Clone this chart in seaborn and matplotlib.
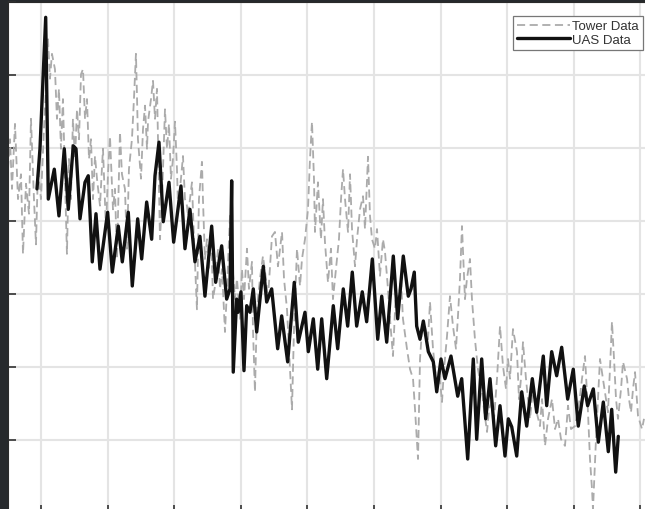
import numpy as np
import pandas as pd
import matplotlib
matplotlib.use("Agg")
import matplotlib.pyplot as plt
import seaborn as sns

# UAS data (black solid)
uas_x = [9.4, 9.85, 10.71, 11.10, 12.0, 12.70, 13.50, 14.10, 14.85, 15.26, 15.86, 16.61,
         17.10, 17.70, 18.26, 18.86, 20.01, 20.71, 21.61, 22.21, 23.11, 23.71, 24.52, 25.12,
         25.87, 26.62, 27.12, 27.72, 28.36, 29.22, 29.92, 31.02, 31.62, 32.37, 33.12, 33.87,
         34.62, 35.63, 36.23, 37.13, 37.88, 38.38, 38.63, 38.87, 39.38, 39.62, 40.03, 40.48,
         40.89, 41.38, 41.88, 42.39, 43.38, 43.89, 44.64, 45.54, 46.14, 47.04, 48.03, 48.63,
         49.64, 50.14, 50.89, 51.55, 52.15, 52.90, 53.89, 54.55, 55.39, 56.05, 56.74, 57.40,
         58.24, 58.90, 59.75, 60.56, 61.16, 61.91, 62.90, 63.56, 64.40, 65.15, 65.56, 66.05,
         66.41, 66.91, 67.41, 68.16, 68.91, 69.42, 70.06, 70.66, 71.56, 72.57, 73.17, 74.07,
         74.91, 75.42, 76.17, 76.77, 77.42, 78.27, 78.92, 79.67, 80.17, 80.68, 81.43, 82.18,
         82.93, 83.77, 84.43, 85.42, 85.93, 86.68, 87.43, 88.18, 89.08, 89.92, 90.67, 91.57,
         92.08, 92.93, 93.68, 94.43, 95.18, 95.69, 96.29, 96.68]
uas_y = [4.44, 4.99, 6.79, 4.30, 4.71, 4.07, 4.99, 4.16, 5.03, 4.99, 4.03, 4.53,
         4.62, 3.44, 4.10, 3.34, 4.12, 3.30, 3.93, 3.44, 4.12, 3.11, 4.03, 3.48,
         4.26, 3.75, 4.62, 5.08, 3.99, 4.53, 3.71, 4.48, 3.62, 4.16, 3.44, 3.79,
         2.97, 3.93, 3.16, 3.66, 2.93, 3.07, 4.55, 1.93, 2.93, 2.75, 3.03, 1.95,
         2.84, 2.75, 3.07, 2.48, 3.38, 2.89, 3.07, 2.25, 2.70, 2.07, 3.16, 2.34,
         2.75, 2.21, 2.66, 1.97, 2.66, 1.84, 2.84, 2.25, 3.07, 2.56, 3.30, 2.56,
         3.03, 2.62, 3.48, 2.38, 2.97, 2.34, 3.52, 2.66, 3.52, 2.97, 3.07, 3.30,
         2.56, 2.38, 2.63, 2.21, 2.07, 1.66, 2.11, 1.84, 2.15, 1.60, 1.84, 0.74,
         2.11, 1.01, 2.11, 1.29, 1.84, 0.92, 1.47, 0.78, 1.29, 1.18, 0.78, 1.66,
         1.19, 1.84, 1.38, 2.15, 1.47, 2.21, 1.88, 2.27, 1.56, 1.97, 1.19, 1.74,
         1.47, 1.70, 0.97, 1.52, 0.84, 1.42, 0.56, 1.05]

# Tower data (gray dashed)
tower_x = [5.05, 5.35, 5.65, 6.10, 6.55, 7.00, 7.30, 7.75, 8.20, 8.50, 8.95, 9.25, 9.55,
           10.0, 10.45, 10.75, 11.05, 11.35, 11.65, 12.10, 12.40, 12.70, 13.00, 13.30, 13.60,
           13.90, 14.20, 14.50, 14.80, 15.11, 15.41, 15.71, 16.01, 16.31, 16.61, 16.91, 17.21,
           17.51, 17.81, 18.11, 18.41, 18.86, 19.31, 19.76, 20.06, 20.36, 20.81, 21.11, 21.41,
           21.86, 22.16, 22.61, 22.91, 23.21, 23.66, 23.96, 24.26, 24.41, 24.56, 25.02, 25.32,
           25.62, 25.92, 26.07, 26.52, 26.82, 27.12, 27.42, 27.57, 27.87, 28.17, 28.62, 28.92,
           29.22, 29.52, 29.82, 30.12, 30.42, 30.57, 31.02, 31.32, 31.62, 31.92, 32.07, 32.67,
           32.97, 33.42, 33.72, 34.17, 34.32, 34.62, 34.92, 35.22, 35.53, 35.83, 36.13, 36.58,
           36.88, 37.18, 37.63, 37.93, 38.38, 38.68, 39.13, 39.43, 39.88, 40.18, 40.48, 40.93,
           41.23, 41.68, 41.83, 42.13, 42.43, 42.88, 43.33, 43.78, 44.08, 44.68, 45.13, 45.58,
           46.19, 46.49, 46.94, 47.24, 47.69, 47.99, 48.44, 48.89, 49.19, 49.64, 50.09, 50.39,
           50.69, 50.99, 51.14, 51.59, 52.04, 52.34, 52.64, 53.09, 53.54, 53.84, 54.29, 54.74,
           55.05, 55.35, 55.65, 56.10, 56.40, 56.70, 57.15, 57.45, 57.90, 58.35, 58.65, 59.10,
           59.40, 59.70, 60.15, 60.45, 60.90, 61.35, 61.65, 62.10, 62.40, 62.85, 63.30, 63.60,
           64.05, 64.35, 64.95, 65.41, 65.86, 66.16, 66.46, 66.61, 66.91, 67.21, 67.66, 68.11,
           68.41, 68.86, 69.46, 69.76, 70.21, 70.51, 70.96, 71.41, 71.86, 72.31, 72.61, 72.91,
           73.21, 73.66, 73.96, 74.41, 74.71, 75.16, 75.61, 76.22, 76.52, 76.97, 77.27, 77.72,
           78.02, 78.47, 78.92, 79.37, 79.82, 80.12, 80.42, 80.87, 81.47, 81.77, 82.07, 82.37,
           82.82, 83.12, 83.42, 83.87, 84.32, 84.92, 85.23, 85.68, 86.13, 86.73, 87.18, 87.63,
           88.08, 88.68, 89.13, 89.58, 90.18, 90.63, 90.93, 91.23, 91.68, 92.13, 92.43, 92.73,
           92.88, 93.33, 93.63, 93.93, 94.38, 94.83, 95.13, 95.43, 95.73, 96.04, 96.34, 96.64,
           97.09, 97.39, 97.99, 98.29, 98.59, 98.89, 99.19, 99.64, 100.24, 100.54]
tower_y = [4.71, 5.12, 4.44, 5.33, 4.30, 4.64, 3.55, 4.51, 4.10, 5.40, 4.30, 3.68, 4.71,
           4.30, 5.26, 5.81, 6.49, 5.95, 6.29, 6.08, 5.40, 5.81, 4.99, 5.67, 4.58,
           3.55, 4.85, 4.30, 5.40, 4.85, 5.53, 5.12, 6.01, 6.08, 5.40, 5.67, 4.85,
           5.12, 4.30, 4.89, 4.58, 4.21, 4.99, 3.89, 4.64, 5.16, 4.16, 4.44, 3.48,
           5.22, 4.64, 4.44, 3.62, 4.71, 5.12, 5.67, 6.29, 5.74, 5.12, 4.58, 5.26,
           5.58, 4.99, 5.36, 5.67, 5.92, 5.40, 5.81, 5.12, 3.75, 4.30, 5.53, 4.99,
           5.33, 4.58, 4.85, 5.36, 4.71, 4.21, 4.58, 4.89, 4.30, 4.21, 4.07, 4.53,
           3.75, 2.79, 4.30, 4.81, 4.30, 3.48, 3.75, 3.34, 3.89, 2.93, 3.11, 3.62,
           3.07, 3.34, 2.48, 3.07, 4.07, 3.48, 2.93, 3.21, 2.66, 3.34, 2.93, 3.62,
           3.07, 3.44, 2.52, 1.66, 2.79, 3.21, 3.52, 3.21, 2.93, 3.79, 3.85, 3.38,
           3.85, 3.21, 2.79, 2.25, 1.42, 2.52, 3.62, 3.11, 3.48, 3.75, 4.16, 4.85,
           5.36, 4.58, 3.85, 4.53, 3.75, 4.30, 3.71, 3.16, 3.62, 2.93, 3.34, 3.75,
           4.30, 4.71, 4.30, 3.85, 4.64, 3.89, 3.38, 3.75, 4.16, 4.34, 3.89, 4.88,
           4.07, 3.75, 3.62, 3.89, 3.25, 3.75, 3.58, 3.07, 2.66, 2.15, 3.07, 2.84,
           3.21, 2.66, 2.25, 1.97, 1.84, 1.42, 0.97, 0.74, 2.11, 2.52, 2.56, 2.38,
           2.89, 2.25, 1.70, 1.97, 1.52, 1.97, 2.42, 2.97, 2.56, 2.25, 2.70, 3.21,
           3.93, 2.93, 3.21, 3.48, 2.93, 2.38, 1.97, 1.66, 1.42, 1.11, 1.42, 1.56,
           1.29, 1.84, 2.56, 2.01, 1.70, 2.11, 1.84, 2.52, 2.21, 1.56, 1.84, 2.34,
           1.84, 1.56, 1.29, 1.70, 1.42, 1.19, 1.56, 0.92, 1.29, 1.56, 1.15, 1.29,
           1.01, 0.92, 1.47, 1.15, 1.19, 1.42, 1.60, 1.84, 2.15, 1.38, 0.74, 0.33,
           0.05, 1.01, 1.56, 2.11, 1.84, 1.56, 1.38, 1.97, 2.62, 2.11, 1.56, 1.29,
           1.70, 2.07, 1.84, 1.56, 1.38, 1.70, 1.93, 1.33, 1.15, 1.29]

x_grid = [10, 20, 30, 40, 50, 60, 70, 80, 90, 100]
y_grid = [0, 1, 2, 3, 4, 5, 6, 7]

sns.set_style("whitegrid", {"grid.color": "#e4e4e4", "axes.edgecolor": "#333333"})
plt.rcParams["font.family"] = ["Liberation Sans", "DejaVu Sans"]

fig = plt.figure(figsize=(6.45, 5.10), dpi=100, facecolor="#26292c")
ax = fig.add_axes([8 / 645, -4 / 510, 637 / 645, 511 / 510])
ax.set_facecolor("white")

tower = pd.DataFrame({"x": tower_x, "y": tower_y})
uas = pd.DataFrame({"x": uas_x, "y": uas_y})

sns.lineplot(data=tower, x="x", y="y", ax=ax, estimator=None, sort=False,
             color="#ababab", linewidth=1.3, linestyle=(0, (4.5, 2.5)), label="Tower Data")
sns.lineplot(data=uas, x="x", y="y", ax=ax, estimator=None, sort=False,
             color="#111111", linewidth=2.4, label="UAS Data")

ax.set_xlim(5.05, 100.69)
ax.set_ylim(0, 7)
ax.set_xticks(x_grid)
ax.set_yticks(y_grid)
ax.set_xticklabels([])
ax.set_yticklabels([])
ax.set_xlabel("")
ax.set_ylabel("")
ax.grid(True, color="#e4e4e4", linewidth=1.5)
ax.tick_params(axis="both", direction="in", length=6, width=1.2, color="#333333",
               left=True, bottom=True)
for side in ["right", "bottom"]:
    ax.spines[side].set_visible(False)
ax.spines["left"].set_color("#2a2a2a")
ax.spines["top"].set_color("#2a2a2a")

leg = ax.legend(loc="upper right", bbox_to_anchor=(0.9969, 0.9726), fontsize=9.5,
                frameon=True, fancybox=False, edgecolor="#777777", framealpha=1,
                handlelength=4.0, handletextpad=0.2, borderpad=0.3, labelspacing=0.12,
                borderaxespad=0)
leg.get_frame().set_linewidth(0.9)
for t in leg.get_texts():
    t.set_color("#333333")

fig.savefig("out.png", dpi=100, facecolor=fig.get_facecolor())
